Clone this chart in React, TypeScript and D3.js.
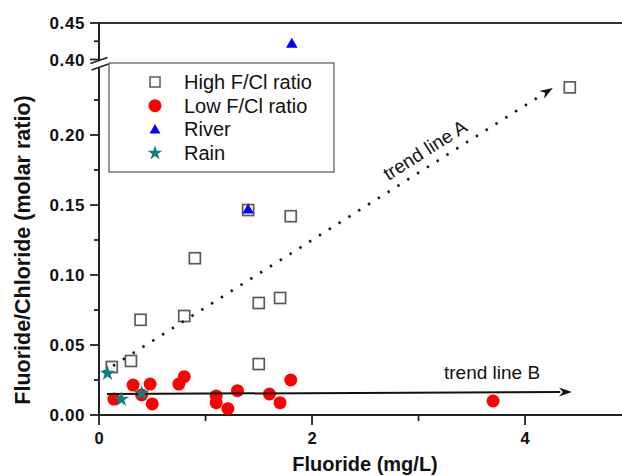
import React from "react";
import * as d3 from "d3";

const highX = [4.42, 1.40, 1.80, 0.90, 1.70, 1.50, 0.80, 1.50, 0.39, 0.30, 0.12];
const highY = [0.234, 0.1464, 0.142, 0.112, 0.0836, 0.080, 0.0707, 0.0364, 0.068, 0.0386, 0.0343];

const lowX = [0.32, 0.48, 0.14, 0.40, 0.50, 0.75, 0.80, 1.10, 1.10, 1.21, 1.30, 1.60, 1.70, 1.80, 3.70];
const lowY = [0.0214, 0.0221, 0.0114, 0.0143, 0.0079, 0.0221, 0.0274, 0.0136, 0.0088, 0.0045, 0.0174, 0.015, 0.0088, 0.025, 0.010];

const riverX = [1.40, 1.81];
const riverY = [0.147, 0.422];

const rainX = [0.08, 0.21, 0.40];
const rainY = [0.0298, 0.0112, 0.0155];

const trendAX = [0.04, 4.26];
const trendAY = [0.0307, 0.2336];
const trendBX = [0.075, 4.44];
const trendBY = [0.015, 0.0164];

const xTicksMajor = [0, 2, 4];
const xTicksMinor = [1, 3];
const yLowMajor = [0, 0.05, 0.1, 0.15, 0.2];
const yLowMinor = [0.025, 0.075, 0.125, 0.175, 0.225];
const yHighMajor = [0.4, 0.45];
const yHighMinor = [0.425];

const legendItems = ["High F/Cl ratio", "Low F/Cl ratio", "River", "Rain"];

const FONT = "'Liberation Sans', Arial, sans-serif";

export default function App() {
  const x = d3.scaleLinear().domain([0, 4.91]).range([99, 622]);
  const yLow = d3.scaleLinear().domain([0, 0.25]).range([415, 65]);
  const yHigh = d3.scaleLinear().domain([0.4, 0.45]).range([59.5, 23]);
  const y = (v: number) => (v >= 0.3 ? yHigh(v) : yLow(v));

  const tri = d3.symbol(d3.symbolTriangle, 58)()!;
  const triLeg = d3.symbol(d3.symbolTriangle, 52)()!;
  const star = d3.symbol(d3.symbolStar, 75)()!;
  const starLeg = d3.symbol(d3.symbolStar, 68)()!;

  const arrow = (x1: number, y1: number, x2: number, y2: number) => {
    const ang = Math.atan2(y2 - y1, x2 - x1);
    const L = 13, W = 4.5;
    const bx = x2 - L * Math.cos(ang), by = y2 - L * Math.sin(ang);
    const nx = -Math.sin(ang), ny = Math.cos(ang);
    const mx = x2 - L * 0.7 * Math.cos(ang), my = y2 - L * 0.7 * Math.sin(ang);
    return `M${x2},${y2}L${bx + nx * W},${by + ny * W}L${mx},${my}L${bx - nx * W},${by - ny * W}Z`;
  };

  const ax1 = x(trendAX[0]), ay1 = y(trendAY[0]), ax2 = x(trendAX[1]), ay2 = y(trendAY[1]);
  const bx1 = x(trendBX[0]), by1 = y(trendBY[0]), bx2 = x(trendBX[1]), by2 = y(trendBY[1]);
  const angA = (Math.atan2(ay2 - ay1, ax2 - ax1) * 180) / Math.PI;
  const shortA = (t: number) => [ax1 + (ax2 - ax1) * t, ay1 + (ay2 - ay1) * t];
  const aEnd = shortA(0.975);
  const bEndX = bx1 + (bx2 - bx1) * 0.975, bEndY = by1 + (by2 - by1) * 0.975;

  const axisX0 = 99;
  const sq = 11;

  return (
    <svg width={622} height={476} style={{ position: "absolute", left: 0, top: 0, background: "#fff" }} fontFamily={FONT}>
      {/* top frame */}
      <line x1={axisX0} x2={622} y1={23} y2={23} stroke="#333" strokeWidth={2} />
      {/* x axis */}
      <line x1={axisX0} x2={622} y1={415} y2={415} stroke="#222" strokeWidth={2} />
      {/* y axis segments */}
      <line x1={axisX0} x2={axisX0} y1={22} y2={60.5} stroke="#222" strokeWidth={2} />
      <line x1={axisX0} x2={axisX0} y1={67} y2={416} stroke="#222" strokeWidth={2} />
      {/* break marks */}
      <line x1={90.5} y1={63.5} x2={107.5} y2={57.5} stroke="#222" strokeWidth={1.6} />
      <line x1={91.5} y1={70} x2={108.5} y2={64} stroke="#222" strokeWidth={1.6} />

      {/* x ticks */}
      {xTicksMajor.map((t) => (
        <g key={"xm" + t}>
          <line x1={x(t)} x2={x(t)} y1={415} y2={425} stroke="#222" strokeWidth={1.8} />
          <text x={x(t)} y={444} textAnchor="middle" fontSize={16.5} fontWeight="bold" fill="#111">
            {t}
          </text>
        </g>
      ))}
      {xTicksMinor.map((t) => (
        <line key={"xn" + t} x1={x(t)} x2={x(t)} y1={415} y2={421} stroke="#222" strokeWidth={1.8} />
      ))}

      {/* y ticks */}
      {yLowMajor.map((t) => (
        <g key={"yl" + t}>
          <line x1={axisX0 - 9} x2={axisX0} y1={yLow(t)} y2={yLow(t)} stroke="#222" strokeWidth={1.8} />
          <text x={85} y={yLow(t) + 6} textAnchor="end" fontSize={17} fontWeight="bold" fill="#111" letterSpacing={0.6}>
            {d3.format(".2f")(t)}
          </text>
        </g>
      ))}
      {yLowMinor.map((t) => (
        <line key={"yln" + t} x1={axisX0 - 5} x2={axisX0} y1={yLow(t)} y2={yLow(t)} stroke="#222" strokeWidth={1.8} />
      ))}
      {yHighMajor.map((t) => (
        <g key={"yh" + t}>
          <line x1={axisX0 - 9} x2={axisX0} y1={yHigh(t)} y2={yHigh(t)} stroke="#222" strokeWidth={1.8} />
          <text x={85} y={yHigh(t) + 6} textAnchor="end" fontSize={17} fontWeight="bold" fill="#111" letterSpacing={0.6}>
            {d3.format(".2f")(t)}
          </text>
        </g>
      ))}
      {yHighMinor.map((t) => (
        <line key={"yhn" + t} x1={axisX0 - 5} x2={axisX0} y1={yHigh(t)} y2={yHigh(t)} stroke="#222" strokeWidth={1.8} />
      ))}

      {/* axis titles */}
      <text x={365} y={471} textAnchor="middle" fontSize={20} fontWeight="bold" fill="#111">
        Fluoride (mg/L)
      </text>
      <text transform={`translate(30,250) rotate(-90)`} textAnchor="middle" fontSize={21.5} fontWeight="bold" fill="#111">
        Fluoride/Chloride (molar ratio)
      </text>

      {/* high F/Cl squares */}
      {highX.map((v, i) => (
        <rect key={"h" + i} x={x(v) - sq / 2} y={y(highY[i]) - sq / 2} width={sq} height={sq} fill="none" stroke="#5a5a5a" strokeWidth={1.7} />
      ))}

      {/* low F/Cl circles */}
      {lowX.map((v, i) => (
        <circle key={"l" + i} cx={x(v)} cy={y(lowY[i])} r={6.5} fill="#ff0000" />
      ))}

      {/* trend lines */}
      <line x1={ax1} y1={ay1} x2={aEnd[0]} y2={aEnd[1]} stroke="#111" strokeWidth={2.6} strokeDasharray="2.4 9.2" />
      <path d={arrow(ax1, ay1, ax2, ay2)} fill="#111" />
      <line x1={bx1} y1={by1} x2={bEndX} y2={bEndY} stroke="#111" strokeWidth={2} />
      <path d={arrow(bx1, by1, bx2, by2)} fill="#111" />

      {/* river triangles */}
      {riverX.map((v, i) => (
        <path key={"r" + i} d={tri} transform={`translate(${x(v)},${y(riverY[i]) + 1})`} fill="#0000ff" />
      ))}

      {/* rain stars */}
      {rainX.map((v, i) => (
        <path key={"s" + i} d={star} transform={`translate(${x(v)},${y(rainY[i])})`} fill="#108080" />
      ))}

      {/* trend labels */}
      <text transform={`translate(425,150) rotate(${angA})`} textAnchor="middle" dy="0.35em" fontSize={19} fill="#111">
        trend line A
      </text>
      <text x={444} y={379} fontSize={19} fill="#111">
        trend line B
      </text>

      {/* legend */}
      <rect x={109} y={63} width={225} height={109} fill="#fff" stroke="#555" strokeWidth={1.2} />
      {legendItems.map((name, i) => {
        const cy = 82 + i * 23.7;
        let marker;
        if (i === 0) marker = <rect x={155 - 5} y={cy - 5} width={10} height={10} fill="none" stroke="#5a5a5a" strokeWidth={1.5} />;
        else if (i === 1) marker = <circle cx={155} cy={cy} r={6.5} fill="#ff0000" />;
        else if (i === 2) marker = <path d={triLeg} transform={`translate(155,${cy + 1})`} fill="#0000ff" />;
        else marker = <path d={starLeg} transform={`translate(155,${cy})`} fill="#108080" />;
        return (
          <g key={name}>
            {marker}
            <text x={184} y={cy + 7} fontSize={20} fill="#111">
              {name}
            </text>
          </g>
        );
      })}
    </svg>
  );
}
